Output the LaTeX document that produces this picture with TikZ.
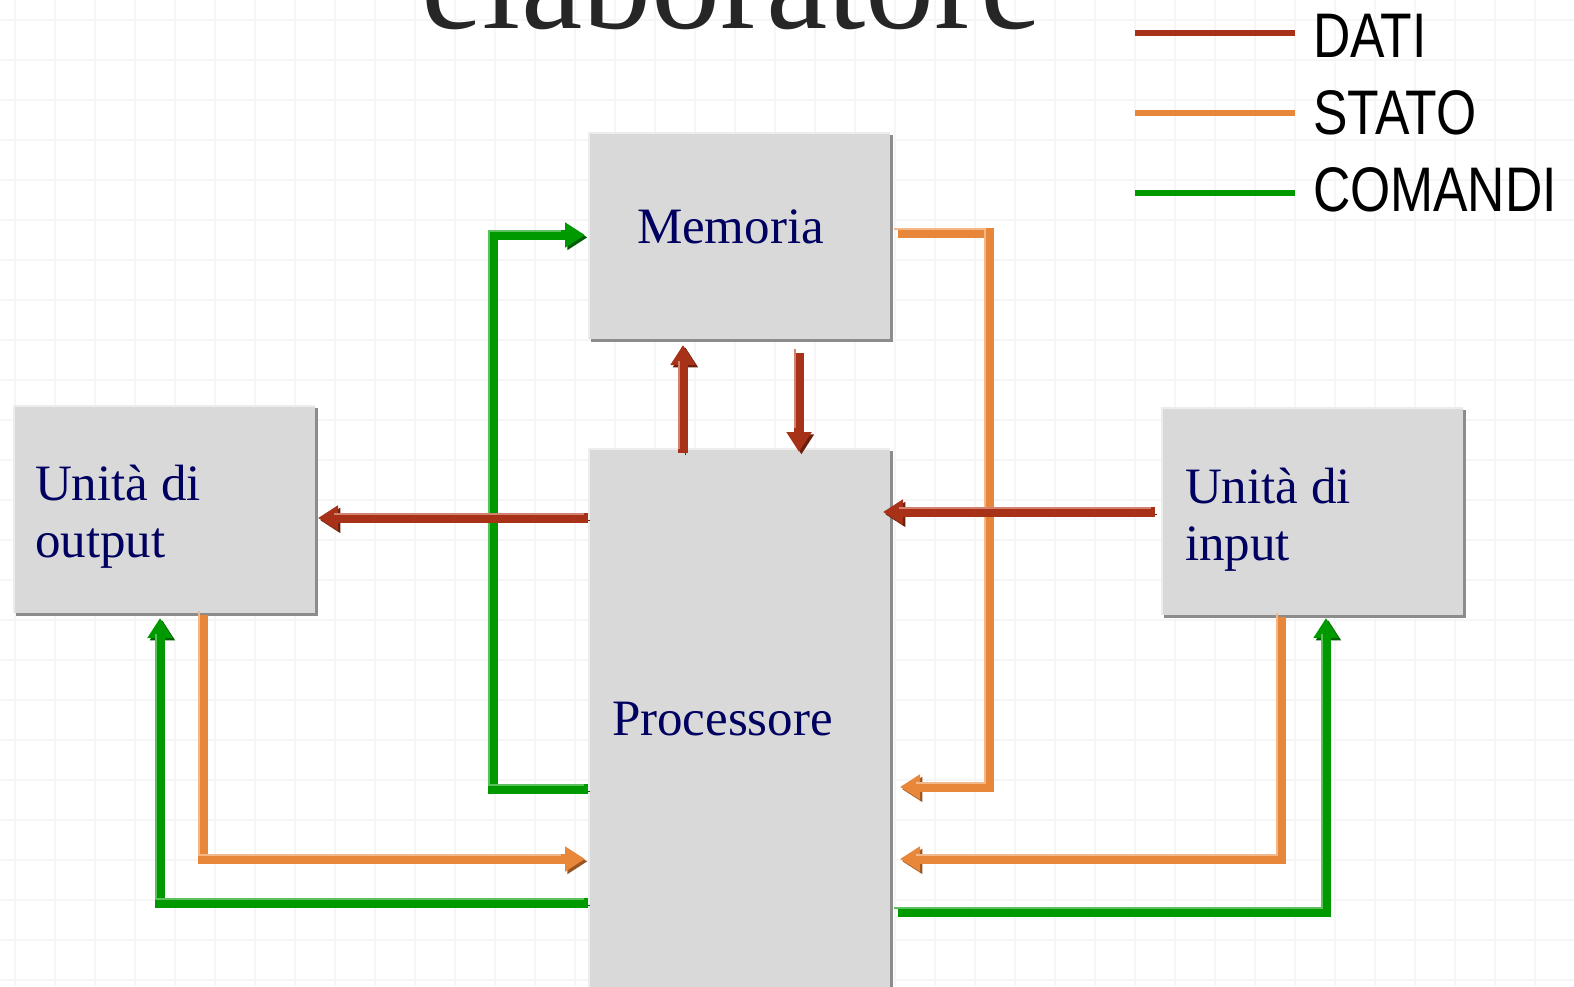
\documentclass[tikz,border=0pt]{standalone}
\usepackage{fontspec}
\setmainfont{Liberation Serif}
\newfontfamily\legendfont{Liberation Sans}
\usetikzlibrary{arrows.meta,calc,shadows}
\definecolor{boxgray}{HTML}{D9D9D9}
\definecolor{boxshadow}{HTML}{8C8C8C}
\definecolor{boxlight}{HTML}{EDEDED}
\definecolor{navytext}{HTML}{000060}
\definecolor{titlegray}{HTML}{262626}
\definecolor{gridc}{HTML}{F6F6F6}
\definecolor{datic}{HTML}{A83218}
\definecolor{datis}{HTML}{6A1E0D}
\definecolor{datil}{HTML}{D2826E}
\definecolor{statoc}{HTML}{E8873A}
\definecolor{statos}{HTML}{9A5522}
\definecolor{statol}{HTML}{F3B88A}
\definecolor{cmdc}{HTML}{009A00}
\definecolor{cmds}{HTML}{005F00}
\definecolor{cmdl}{HTML}{5CC05C}
\tikzset{
  blockbox/.style={rectangle, fill=boxgray, draw=none, inner sep=0pt, outer sep=0pt,
    anchor=north west, minimum width=151pt,
    general shadow={fill=boxshadow, shadow xshift=1.5pt, shadow yshift=-1.5pt},
    path picture={\draw[line width=2pt, boxlight]
      (path picture bounding box.south west) -- (path picture bounding box.north west)
      -- (path picture bounding box.north east);}},
  blocktext/.style={anchor=base west, inner sep=0pt, outer sep=0pt, text=navytext,
    font=\fontsize{25.5pt}{28.5pt}\selectfont, align=left},
  conn/.style n args={3}{line width=4.8pt, draw=#1, -{Triangle[length=10pt,width=12pt]},
    preaction={draw=#2, transform canvas={shift={(1.2pt,-1.2pt)}}},
    postaction={draw=#3, line width=1pt, -, shorten >=10pt,
      transform canvas={shift={(-1.9pt,1.9pt)}}}},
  dati/.style={conn={datic}{datis}{datil}},
  stato/.style={conn={statoc}{statos}{statol}},
  cmd/.style={conn={cmdc}{cmds}{cmdl}},
  legline/.style={line width=3.2pt},
  legtext/.style={anchor=base west, inner sep=0pt, outer sep=0pt, text=black,
    font=\legendfont\fontsize{31.5pt}{36pt}\selectfont},
}
\begin{document}
\begin{tikzpicture}[x=0.5pt,y=-0.5pt]
\useasboundingbox (0,0) rectangle (1574,986);
\fill[white] (0,0) rectangle (1574,986);
% faint grid
\foreach \gx in {15,55,...,1575} \draw[gridc, line width=0.6pt] (\gx,0) -- (\gx,986);
\foreach \gy in {20,60,...,980} \draw[gridc, line width=0.6pt] (0,\gy) -- (1574,\gy);

% title
\node[anchor=base west, inner sep=0pt, text=titlegray, font=\fontsize{69pt}{80pt}\selectfont]
  (title) at (421,28) {elaboratore};

% blocks
\node[blockbox, minimum height=103.5pt] (mem) at (588,132) {};
\node[blockbox, minimum height=280pt] (proc) at (588,448) {};
\node[blockbox, minimum height=104pt] (out) at (13,405) {};
\node[blockbox, minimum height=104pt] (in) at (1161,407) {};

\node[blocktext] (memt) at (637,243) {Memoria};
\node[blocktext] (proct) at (612,735) {Processore};
\node[blocktext] (outt) at (35,557) {Unità di\\output};
\node[blocktext] (int) at (1185,560) {Unità di\\input};

% connectors
\draw[cmd] (proc.west |- 0,789) -| (493,235) -- ($(mem.west |- 0,235)+(-3,0)$);
\draw[dati] (proc.west |- 0,518) -- ($(out.east |- 0,518)+(3,0)$);
\draw[dati] ($(proc.north -| 683,0)+(0,5)$) -- ($(mem.south -| 683,0)+(0,6)$);
\draw[dati] ($(mem.south -| 799,0)+(0,14)$) -- ($(proc.north -| 799,0)+(0,4)$);
\draw[stato] ($(mem.east |- 0,233)+(8,0)$) -| (989,787) -- ($(proc.east |- 0,787)+(10,0)$);
\draw[dati] ($(in.west |- 0,512)+(-6,0)$) -- ($(proc.east |- 0,512)+(-7,0)$);
\draw[stato] ($(out.south -| 203,0)+(0,2)$) |- ($(proc.west |- 0,859)+(-3,0)$);
\draw[cmd] (proc.west |- 0,903) -| ($(out.south -| 160,0)+(0,5)$);
\draw[stato] ($(in.south -| 1281,0)+(0,2)$) |- ($(proc.east |- 0,859)+(10,0)$);
\draw[cmd] ($(proc.east |- 0,912)+(8,0)$) -| ($(in.south -| 1326,0)+(0,3)$);

% legend
\node[legtext] (ldati) at (1313,57) {\scalebox{0.82}[1]{DATI}};
\node[legtext] (lstato) at (1313,134) {\scalebox{0.82}[1]{STATO}};
\node[legtext] (lcmd) at (1313,211) {\scalebox{0.82}[1]{COMANDI}};
\draw[legline, datic] (1135,33) -- (1295,33);
\draw[legline, statoc] (1135,113) -- (1295,113);
\draw[legline, cmdc] (1135,193) -- (1295,193);
\end{tikzpicture}
\end{document}
